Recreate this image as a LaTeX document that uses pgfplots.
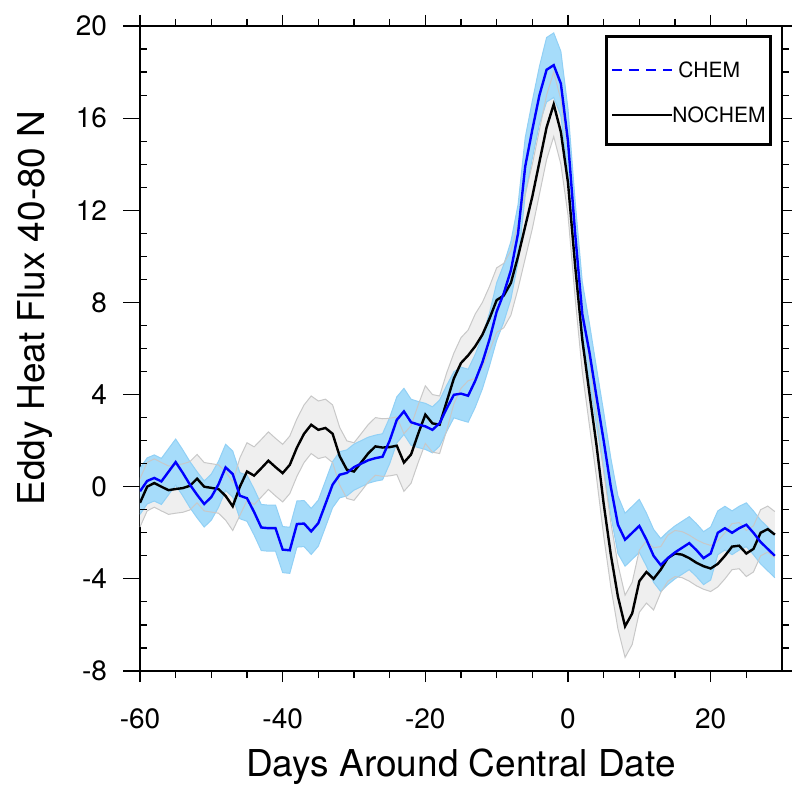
\documentclass[border=0pt]{standalone}
\usepackage{fontspec}
\setmainfont{TeX Gyre Heros}
\usepackage{pgfplots}
\usepackage{pgfplotstable}
\pgfplotsset{compat=1.18}
\usepgfplotslibrary{fillbetween}

\definecolor{bandblue}{RGB}{166,220,250}
\definecolor{bandblueedge}{RGB}{145,208,245}
\definecolor{bandgray}{RGB}{239,239,239}
\definecolor{bandgrayedge}{RGB}{200,200,200}

% empty overlay axes, used only for the extra tick marks
\pgfplotsset{tickonly/.style={
    scale only axis, width=321pt, height=322.5pt,
    xmin=-60, xmax=30, ymin=-8, ymax=20,
    axis line style={draw=none}, xtick=\empty, yticklabels={},
    yticklabel style={opacity=0},
    tick style={black, line width=0.6pt}}}

% c = CHEM, n = NOCHEM, lo/hi = edges of the shaded spread
\pgfplotstableread{
x    c      clo    chi    n      nlo    nhi
-60  -0.20  -1.20  0.80   -0.70  -1.75  0.35
-59  0.25   -0.75  1.25   0.00   -1.05  1.05
-58  0.38   -0.62  1.38   0.16   -0.89  1.21
-57  0.23   -0.77  1.23   0.00   -1.05  1.05
-56  0.65   -0.35  1.65   -0.15  -1.20  0.90
-55  1.07   0.07   2.07   -0.10  -1.15  0.95
-54  0.60   -0.40  1.60   -0.06  -1.11  0.99
-53  0.09   -0.91  1.09   0.04   -1.01  1.09
-52  -0.35  -1.35  0.65   0.35   -0.70  1.40
-51  -0.75  -1.75  0.25   0.00   -1.05  1.05
-50  -0.45  -1.45  0.55   -0.05  -1.10  1.00
-49  0.10   -0.90  1.10   -0.10  -1.15  0.95
-48  0.84   -0.16  1.84   -0.40  -1.45  0.65
-47  0.55   -0.45  1.55   -0.85  -1.90  0.20
-46  -0.39  -1.39  0.61   0.00   -1.25  1.25
-45  -0.50  -1.50  0.50   0.66   -0.59  1.91
-44  -1.10  -2.10  -0.10  0.48   -0.77  1.73
-43  -1.77  -2.77  -0.77  0.80   -0.45  2.05
-42  -1.80  -2.80  -0.80  1.13   -0.12  2.38
-41  -1.80  -2.80  -0.80  0.85   -0.40  2.10
-40  -2.73  -3.73  -1.73  0.59   -0.66  1.84
-39  -2.76  -3.76  -1.76  0.95   -0.30  2.20
-38  -1.62  -2.62  -0.62  1.70   0.45   2.95
-37  -1.60  -2.60  -0.60  2.30   1.05   3.55
-36  -1.94  -2.94  -0.94  2.69   1.44   3.94
-35  -1.58  -2.58  -0.58  2.47   1.22   3.72
-34  -0.75  -1.75  0.25   2.55   1.30   3.80
-33  0.09   -0.91  1.09   2.30   1.05   3.55
-32  0.52   -0.48  1.52   1.32   0.07   2.57
-31  0.60   -0.40  1.60   0.74   -0.51  1.99
-30  0.85   -0.15  1.85   0.66   -0.59  1.91
-29  1.00   0.00   2.00   1.05   -0.20  2.30
-28  1.15   0.15   2.15   1.45   0.20   2.70
-27  1.24   0.24   2.24   1.75   0.50   3.00
-26  1.30   0.30   2.30   1.70   0.45   2.95
-25  2.00   1.00   3.00   1.72   0.47   2.97
-24  2.90   1.90   3.90   1.78   0.53   3.03
-23  3.27   2.27   4.27   1.05   -0.20  2.30
-22  2.80   1.80   3.80   1.40   0.15   2.65
-21  2.70   1.70   3.70   2.30   1.05   3.55
-20  2.62   1.62   3.62   3.13   1.88   4.38
-19  2.47   1.47   3.47   2.75   1.50   4.00
-18  2.76   1.76   3.76   2.69   1.44   3.94
-17  3.40   2.40   4.40   3.70   2.45   4.95
-16  3.99   2.99   4.99   4.70   3.60   5.80
-15  4.04   2.89   5.19   5.37   4.27   6.47
-14  3.95   2.80   5.10   5.70   4.60   6.80
-13  4.60   3.45   5.75   6.10   4.70   7.50
-12  5.40   4.25   6.55   6.60   5.20   8.00
-11  6.40   5.25   7.55   7.30   5.90   8.70
-10  7.60   6.35   8.85   8.10   6.70   9.50
-9   8.40   7.15   9.65   8.30   6.90   9.70
-8   9.40   8.15   10.65  8.85   7.45   10.25
-7   11.00  9.75   12.25  10.00  8.60   11.40
-6   13.90  12.65  15.15  11.30  9.90   12.70
-5   15.50  14.25  16.75  12.60  11.20  14.00
-4   17.00  15.75  18.25  14.10  12.70  15.50
-3   18.10  16.70  19.50  15.60  14.20  17.00
-2   18.30  16.90  19.70  16.60  15.20  18.00
-1   17.50  16.10  18.90  15.40  14.00  16.80
0    15.00  13.60  16.40  13.20  11.80  14.60
1    11.00  9.60   12.40  9.60   8.20   11.00
2    7.50   6.10   8.90   6.40   5.00   7.80
3    5.85   4.60   7.10   4.07   2.67   5.47
4    3.90   2.65   5.15   1.80   0.40   3.20
5    2.00   0.75   3.25   -0.73  -2.13  0.67
6    0.00   -1.25  1.25   -2.94  -4.34  -1.54
7    -1.65  -2.90  -0.40  -4.77  -6.17  -3.37
8    -2.30  -3.45  -1.15  -6.06  -7.41  -4.71
9    -2.00  -3.15  -0.85  -5.50  -6.85  -4.15
10   -1.70  -2.85  -0.55  -4.10  -5.45  -2.75
11   -2.30  -3.45  -1.15  -3.70  -5.05  -2.35
12   -3.00  -4.15  -1.85  -4.00  -5.35  -2.65
13   -3.40  -4.55  -2.25  -3.60  -4.60  -2.60
14   -3.10  -4.25  -1.95  -3.10  -4.10  -2.10
15   -2.85  -4.00  -1.70  -2.90  -3.90  -1.90
16   -2.65  -3.80  -1.50  -2.95  -3.95  -1.95
17   -2.45  -3.60  -1.30  -3.10  -4.10  -2.10
18   -2.75  -3.90  -1.60  -3.30  -4.30  -2.30
19   -3.10  -4.25  -1.95  -3.45  -4.45  -2.45
20   -2.90  -4.05  -1.75  -3.55  -4.55  -2.55
21   -2.00  -2.95  -1.05  -3.35  -4.35  -2.35
22   -1.80  -2.75  -0.85  -3.00  -4.00  -2.00
23   -2.00  -2.95  -1.05  -2.60  -3.60  -1.60
24   -1.80  -2.75  -0.85  -2.56  -3.56  -1.56
25   -1.65  -2.60  -0.70  -2.90  -3.90  -1.90
26   -2.00  -2.95  -1.05  -2.70  -3.70  -1.70
27   -2.40  -3.35  -1.45  -2.00  -3.00  -1.00
28   -2.70  -3.65  -1.75  -1.84  -2.84  -0.84
29   -3.00  -3.95  -2.05  -2.08  -3.08  -1.08
}\flux

\begin{document}
\begin{tikzpicture}
\begin{axis}[
    scale only axis,
    width=321pt, height=322.5pt,
    xmin=-60, xmax=30, ymin=-8, ymax=20,
    xtick={-60,-40,...,20},
    ytick={-8,-4,...,20},
    minor xtick={-55,-50,...,25},
    ytick pos=right, yticklabel pos=left,
    tick align=outside,
    major tick length=5.5pt, minor tick length=3.5pt,
    tick style={black, line width=0.6pt},
    axis line style={line width=1pt},
    /pgf/number format/assume math mode=true,
    ticklabel style={font=\fontsize{14}{16}\selectfont},
    xticklabel style={yshift=-10pt},
    yticklabel style={xshift=-7.5pt},
    label style={font=\fontsize{18.5}{22}\selectfont},
    xlabel={Days Around Central Date},
    ylabel={Eddy Heat Flux 40-80 N},
    xlabel style={at={(axis description cs:0.5,-0.149)}, anchor=center},
    ylabel style={at={(axis description cs:-0.164,0.563)}, anchor=center},
]
% spread edges, named for the fills
\addplot[draw=none, name path=nhi] table[x=x, y=nhi] {\flux};
\addplot[draw=none, name path=nlo] table[x=x, y=nlo] {\flux};
\addplot[draw=none, name path=chi] table[x=x, y=chi] {\flux};
\addplot[draw=none, name path=clo] table[x=x, y=clo] {\flux};

\addplot[bandgray] fill between[of=nhi and nlo];
\addplot[bandblue] fill between[of=chi and clo];

\addplot[bandblueedge, line width=0.5pt] table[x=x, y=chi] {\flux};
\addplot[bandblueedge, line width=0.5pt] table[x=x, y=clo] {\flux};
\addplot[bandgrayedge, line width=0.5pt] table[x=x, y=nhi] {\flux};
\addplot[bandgrayedge, line width=0.5pt] table[x=x, y=nlo] {\flux};

% means
\addplot[black, line width=1.2pt] table[x=x, y=n] {\flux};
\addplot[blue, line width=1.2pt] table[x=x, y=c] {\flux};
\end{axis}
% left: long major ticks outward
\begin{axis}[tickonly, ytick pos=left, tick align=outside,
    ytick={-8,-4,...,20}, major tick length=8.3pt]
\end{axis}
% left: minor ticks inward
\begin{axis}[tickonly, ytick pos=left, tick align=inside,
    ytick={-7,-6,-5,-3,-2,-1,1,2,3,5,6,7,9,10,11,13,14,15,17,18,19},
    major tick length=3.5pt]
\end{axis}
% right: minor ticks outward
\begin{axis}[tickonly, ytick pos=right, tick align=outside,
    ytick={-7,-6,-5,-3,-2,-1,1,2,3,5,6,7,9,10,11,13,14,15,17,18,19},
    major tick length=3.5pt]
\end{axis}
% legend box (axis box starts at the origin)
\draw[line width=1.5pt, fill=white] (233pt,263pt) rectangle (315pt,317pt);
\draw[blue, line width=0.7pt, dash pattern=on 5pt off 3.5pt] (236pt,300.5pt) -- (266pt,300.5pt);
\node[anchor=west, inner sep=0pt, font=\fontsize{10.5}{12}\selectfont] at (269pt,300.5pt) {CHEM};
\draw[black, line width=0.7pt] (236pt,278pt) -- (266pt,278pt);
\node[anchor=west, inner sep=0pt, font=\fontsize{10.5}{12}\selectfont] at (266pt,278pt) {NOCHEM};
\pgfresetboundingbox
\path (-70pt,-58.5pt) rectangle (326pt,335.5pt);
\end{tikzpicture}
\end{document}
